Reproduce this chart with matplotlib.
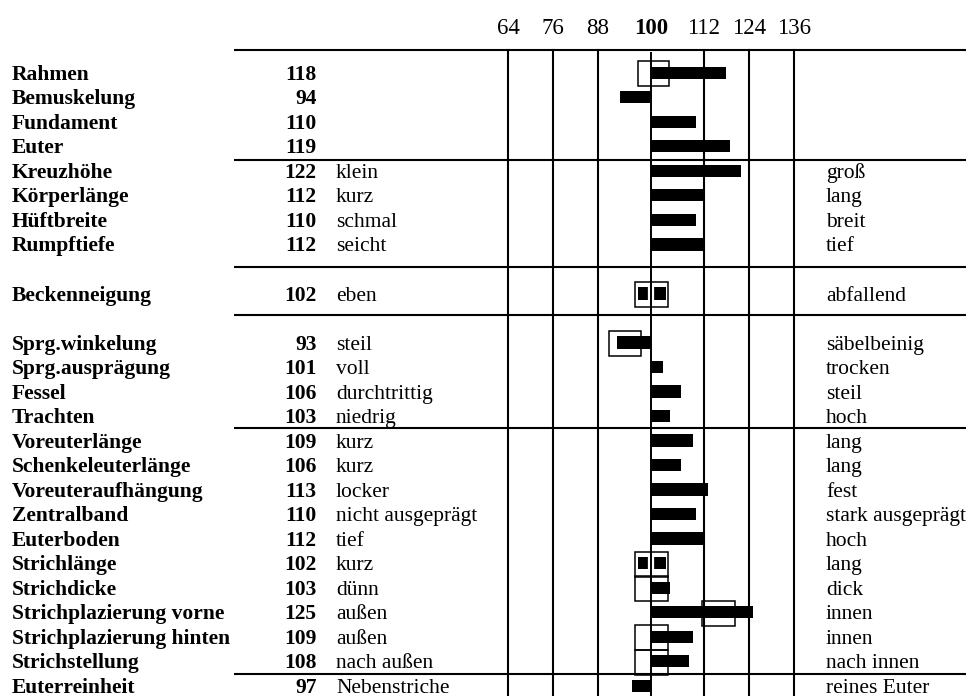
import matplotlib
matplotlib.use("Agg")
import matplotlib.pyplot as plt
import numpy as np

plt.rcParams['font.family'] = ['Liberation Serif', 'DejaVu Serif']

# rows of the table (None = empty spacer row)
traits = ["Rahmen", "Bemuskelung", "Fundament", "Euter",
          "Kreuzhöhe", "Körperlänge", "Hüftbreite", "Rumpftiefe",
          None, "Beckenneigung", None,
          "Sprg.winkelung", "Sprg.ausprägung", "Fessel", "Trachten",
          "Voreuterlänge", "Schenkeleuterlänge", "Voreuteraufhängung",
          "Zentralband", "Euterboden", "Strichlänge", "Strichdicke",
          "Strichplazierung vorne", "Strichplazierung hinten",
          "Strichstellung", "Euterreinheit"]
values = [118, 94, 110, 119,
          122, 112, 110, 112,
          None, 102, None,
          93, 101, 106, 103,
          109, 106, 113, 110, 112, 102, 103, 125, 109, 108, 97]
low_text = ["", "", "", "",
            "klein", "kurz", "schmal", "seicht",
            None, "eben", None,
            "steil", "voll", "durchtrittig", "niedrig",
            "kurz", "kurz", "locker", "nicht ausgeprägt", "tief",
            "kurz", "dünn", "außen", "außen", "nach außen", "Nebenstriche"]
high_text = ["", "", "", "",
             "groß", "lang", "breit", "tief",
             None, "abfallend", None,
             "säbelbeinig", "trocken", "steil", "hoch",
             "lang", "lang", "fest", "stark ausgeprägt", "hoch",
             "lang", "dick", "innen", "innen", "nach innen", "reines Euter"]

# outlined ranges: row index -> (low, high)
boxes = {0: (98.6, 102.6), 9: (98.0, 102.4), 11: (91.0, 99.5),
         20: (98.0, 102.4), 21: (98.0, 102.4), 22: (111.6, 120.3),
         23: (98.0, 102.4), 24: (98.0, 102.4)}
filled_rows = [9, 20]

ticks = [64, 76, 88, 100, 112, 124, 136]
separators = [-0.98, 3.51, 7.86, 9.83, 14.44, 24.47]

# split scale: a small gap on each side of 100
G = 2.133
def fwd(v):
    v = np.asarray(v, dtype=float)
    return v + G * np.sign(v - 100)
def inv(t):
    t = np.asarray(t, dtype=float)
    return np.where(t > 100 + G, t - G, np.where(t < 100 - G, t + G, 100.0))

fig = plt.figure(figsize=(9.66, 6.96), dpi=100)
ax = fig.add_axes([0, 0, 1, 1])
ax.set_xscale('function', functions=(fwd, inv))
ax.set_xlim(-71.47, 181.87)
ax.set_ylim(25.37, -3.018)
ax.axis('off')

n = len(traits)
lw_line = 1.5
fs = 15.5

# horizontal separators
for s in separators:
    ax.plot([0.2422, 1.0], [s, s], color='black', lw=lw_line,
            transform=ax.get_yaxis_transform(), solid_capstyle='butt')

# vertical grid lines
bottom = 25.4
for t in ticks:
    if t == 100:
        ax.plot([t, t], [-0.86, bottom], color='black', lw=1.4)
    else:
        ax.plot([t, t], [separators[0], bottom], color='black', lw=lw_line)

# top scale labels
for t in ticks:
    ax.text(t, -1.85, str(t), ha='center', va='center', fontsize=16.5,
            fontweight='bold' if t == 100 else 'normal')

# bars
for i in range(n):
    v = values[i]
    if v is None:
        continue
    left = 100
    if i in filled_rows:
        left = boxes[i][0] + 0.8
    ax.barh(i - 0.05, v - left, left=left, height=0.5, color='black', zorder=3)
    if i in filled_rows:
        ax.plot([100, 100], [i - 0.32, i + 0.22], color='white', lw=4.5,
                zorder=4, solid_capstyle='butt')
        ax.plot([100, 100], [i - 0.5, i + 0.5], color='black', lw=1.4, zorder=5)

# outlined ranges
for i, (lo, hi) in boxes.items():
    ax.add_patch(plt.Rectangle((lo, i - 0.52), hi - lo, 1.02, fill=False,
                               edgecolor='black', lw=1.1, zorder=6))

# table text
for i in range(n):
    if traits[i] is None:
        continue
    y = i + 0.24
    ax.text(12 / 966, y, traits[i], transform=ax.get_yaxis_transform(),
            fontsize=fs, fontweight='bold', va='baseline', ha='left')
    ax.text(316.7 / 966, y, str(values[i]), transform=ax.get_yaxis_transform(),
            fontsize=fs, fontweight='bold', va='baseline', ha='right')
    ax.text(336 / 966, y, low_text[i], transform=ax.get_yaxis_transform(),
            fontsize=fs, va='baseline', ha='left')
    ax.text(826 / 966, y, high_text[i], transform=ax.get_yaxis_transform(),
            fontsize=fs, va='baseline', ha='left', clip_on=True)

fig.savefig("out.png", dpi=100)
